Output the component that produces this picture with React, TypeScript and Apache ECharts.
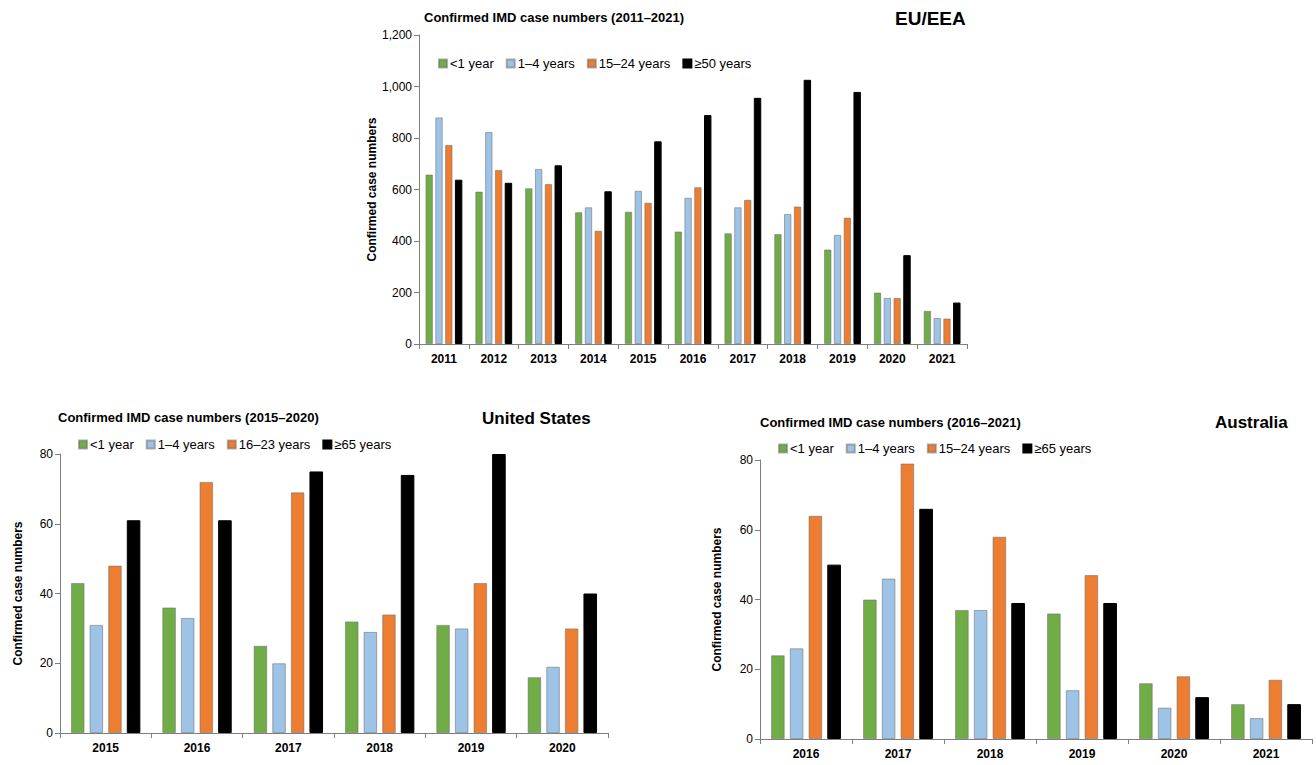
import React, { useEffect, useRef } from "react";
import * as echarts from "echarts";

const euYears = ["2011", "2012", "2013", "2014", "2015", "2016", "2017", "2018", "2019", "2020", "2021"];
const euLt1 = [658, 592, 605, 512, 514, 437, 430, 427, 367, 200, 129];
const eu1to4 = [880, 823, 680, 531, 595, 568, 531, 505, 424, 179, 101];
const eu15to24 = [773, 676, 621, 440, 549, 609, 560, 534, 491, 179, 99];
const euGe50 = [638, 626, 694, 593, 787, 889, 956, 1026, 979, 345, 161];

const usYears = ["2015", "2016", "2017", "2018", "2019", "2020"];
const usLt1 = [43, 36, 25, 32, 31, 16];
const us1to4 = [31, 33, 20, 29, 30, 19];
const us16to23 = [48, 72, 69, 34, 43, 30];
const usGe65 = [61, 61, 75, 74, 80, 40];

const auYears = ["2016", "2017", "2018", "2019", "2020", "2021"];
const auLt1 = [24, 40, 37, 36, 16, 10];
const au1to4 = [26, 46, 37, 14, 9, 6];
const au15to24 = [64, 79, 58, 47, 18, 17];
const auGe65 = [50, 66, 39, 39, 12, 10];

const GREEN = "#70ad47";
const BLUE = "#9dc3e6";
const ORANGE = "#ed7d31";
const BLACK = "#000000";
const FONT = "Liberation Sans, Arial, sans-serif";

export default function App() {
  const ref = useRef<HTMLDivElement>(null);
  useEffect(() => {
    const chart = echarts.init(ref.current!, undefined, { renderer: "svg" });
    const axisLine = { lineStyle: { color: "#7f7f7f", width: 1 } };
    const mkX = (data: string[], gridIndex: number) => ({
      type: "category",
      data,
      gridIndex,
      axisLine,
      axisTick: { show: true, length: 5, lineStyle: { color: "#7f7f7f" } },
      axisLabel: { fontFamily: FONT, fontWeight: "bold", fontSize: 12, color: "#000", margin: 9 },
      splitLine: { show: false },
    });
    const mkY = (gridIndex: number, max: number, interval: number, nameGap: number, comma: boolean) => ({
      type: "value",
      gridIndex,
      min: 0,
      max,
      interval,
      name: "Confirmed case numbers",
      nameLocation: "middle",
      nameGap,
      nameTextStyle: { fontFamily: FONT, fontWeight: "bold", fontSize: 12, color: "#000" },
      axisLine: { show: true, ...axisLine },
      axisTick: { show: true, length: 5, lineStyle: { color: "#7f7f7f" } },
      axisLabel: {
        fontFamily: FONT,
        fontSize: 12,
        color: "#000",
        margin: 7,
        formatter: (v: number) => (comma ? v.toLocaleString("en-US") : String(v)),
      },
      splitLine: { show: false },
    });
    const mkBar = (name: string, data: number[], color: string, idx: number, barGap: string, catGap: string) => ({
      type: "bar",
      name,
      data,
      xAxisIndex: idx,
      yAxisIndex: idx,
      barGap,
      barCategoryGap: catGap,
      itemStyle: { color, borderColor: color === BLACK ? BLACK : "rgba(110,110,110,0.55)", borderWidth: 1 },
    });
    const legendBase = {
      icon: "rect",
      itemWidth: 8,
      itemHeight: 8,
      itemGap: 12,
      textStyle: { fontFamily: FONT, fontSize: 13, color: "#000", padding: [0, 0, 0, -2] },
    };
    const titleStyle = { fontFamily: FONT, fontWeight: "bold", fontSize: 13, color: "#000" };
    const countryStyle = { fontFamily: FONT, fontWeight: "bold", fontSize: 17, color: "#000" };
    chart.setOption({
      animation: false,
      backgroundColor: "#ffffff",
      title: [
        { text: "Confirmed IMD case numbers (2011–2021)", left: 424, top: 11, textStyle: titleStyle, padding: 0 },
        { text: "EU/EEA", left: 895, top: 9, textStyle: { ...countryStyle, fontSize: 19 }, padding: 0 },
        { text: "Confirmed IMD case numbers (2015–2020)", left: 58, top: 411, textStyle: titleStyle, padding: 0 },
        { text: "United States", left: 482, top: 410, textStyle: countryStyle, padding: 0 },
        { text: "Confirmed IMD case numbers (2016–2021)", left: 760, top: 416, textStyle: titleStyle, padding: 0 },
        { text: "Australia", left: 1215, top: 414, textStyle: countryStyle, padding: 0 },
      ],
      legend: [
        { ...legendBase, data: ["<1 year", "1–4 years", "15–24 years", "≥50 years"], left: 438, top: 57, padding: 0 },
        { ...legendBase, data: ["<1 year", "1–4 years", "16–23 years", "≥65 years"], left: 78, top: 438, padding: 0 },
        { ...legendBase, data: ["<1 year", "1–4 years", "15–24 years", "≥65 years"], left: 778, top: 442, padding: 0 },
      ],
      grid: [
        { left: 419, right: 349, top: 35, bottom: 421 },
        { left: 60, right: 708, top: 454, bottom: 32 },
        { left: 760, right: 4, top: 460, bottom: 26 },
      ],
      xAxis: [mkX(euYears, 0), mkX(usYears, 1), mkX(auYears, 2)],
      yAxis: [mkY(0, 1200, 200, 38, true), mkY(1, 80, 20, 36, false), mkY(2, 80, 20, 37, false)],
      series: [
        mkBar("<1 year", euLt1, GREEN, 0, "32%", "26%"),
        mkBar("1–4 years", eu1to4, BLUE, 0, "32%", "26%"),
        mkBar("15–24 years", eu15to24, ORANGE, 0, "32%", "26%"),
        mkBar("≥50 years", euGe50, BLACK, 0, "32%", "26%"),
        mkBar("<1 year", usLt1, GREEN, 1, "37%", "24%"),
        mkBar("1–4 years", us1to4, BLUE, 1, "37%", "24%"),
        mkBar("16–23 years", us16to23, ORANGE, 1, "37%", "24%"),
        mkBar("≥65 years", usGe65, BLACK, 1, "37%", "24%"),
        mkBar("<1 year", auLt1, GREEN, 2, "37%", "24%"),
        mkBar("1–4 years", au1to4, BLUE, 2, "37%", "24%"),
        mkBar("15–24 years", au15to24, ORANGE, 2, "37%", "24%"),
        mkBar("≥65 years", auGe65, BLACK, 2, "37%", "24%"),
      ],
    });
    return () => chart.dispose();
  }, []);
  return <div ref={ref} style={{ position: "absolute", left: 0, top: 0, width: 1316, height: 765 }} />;
}
